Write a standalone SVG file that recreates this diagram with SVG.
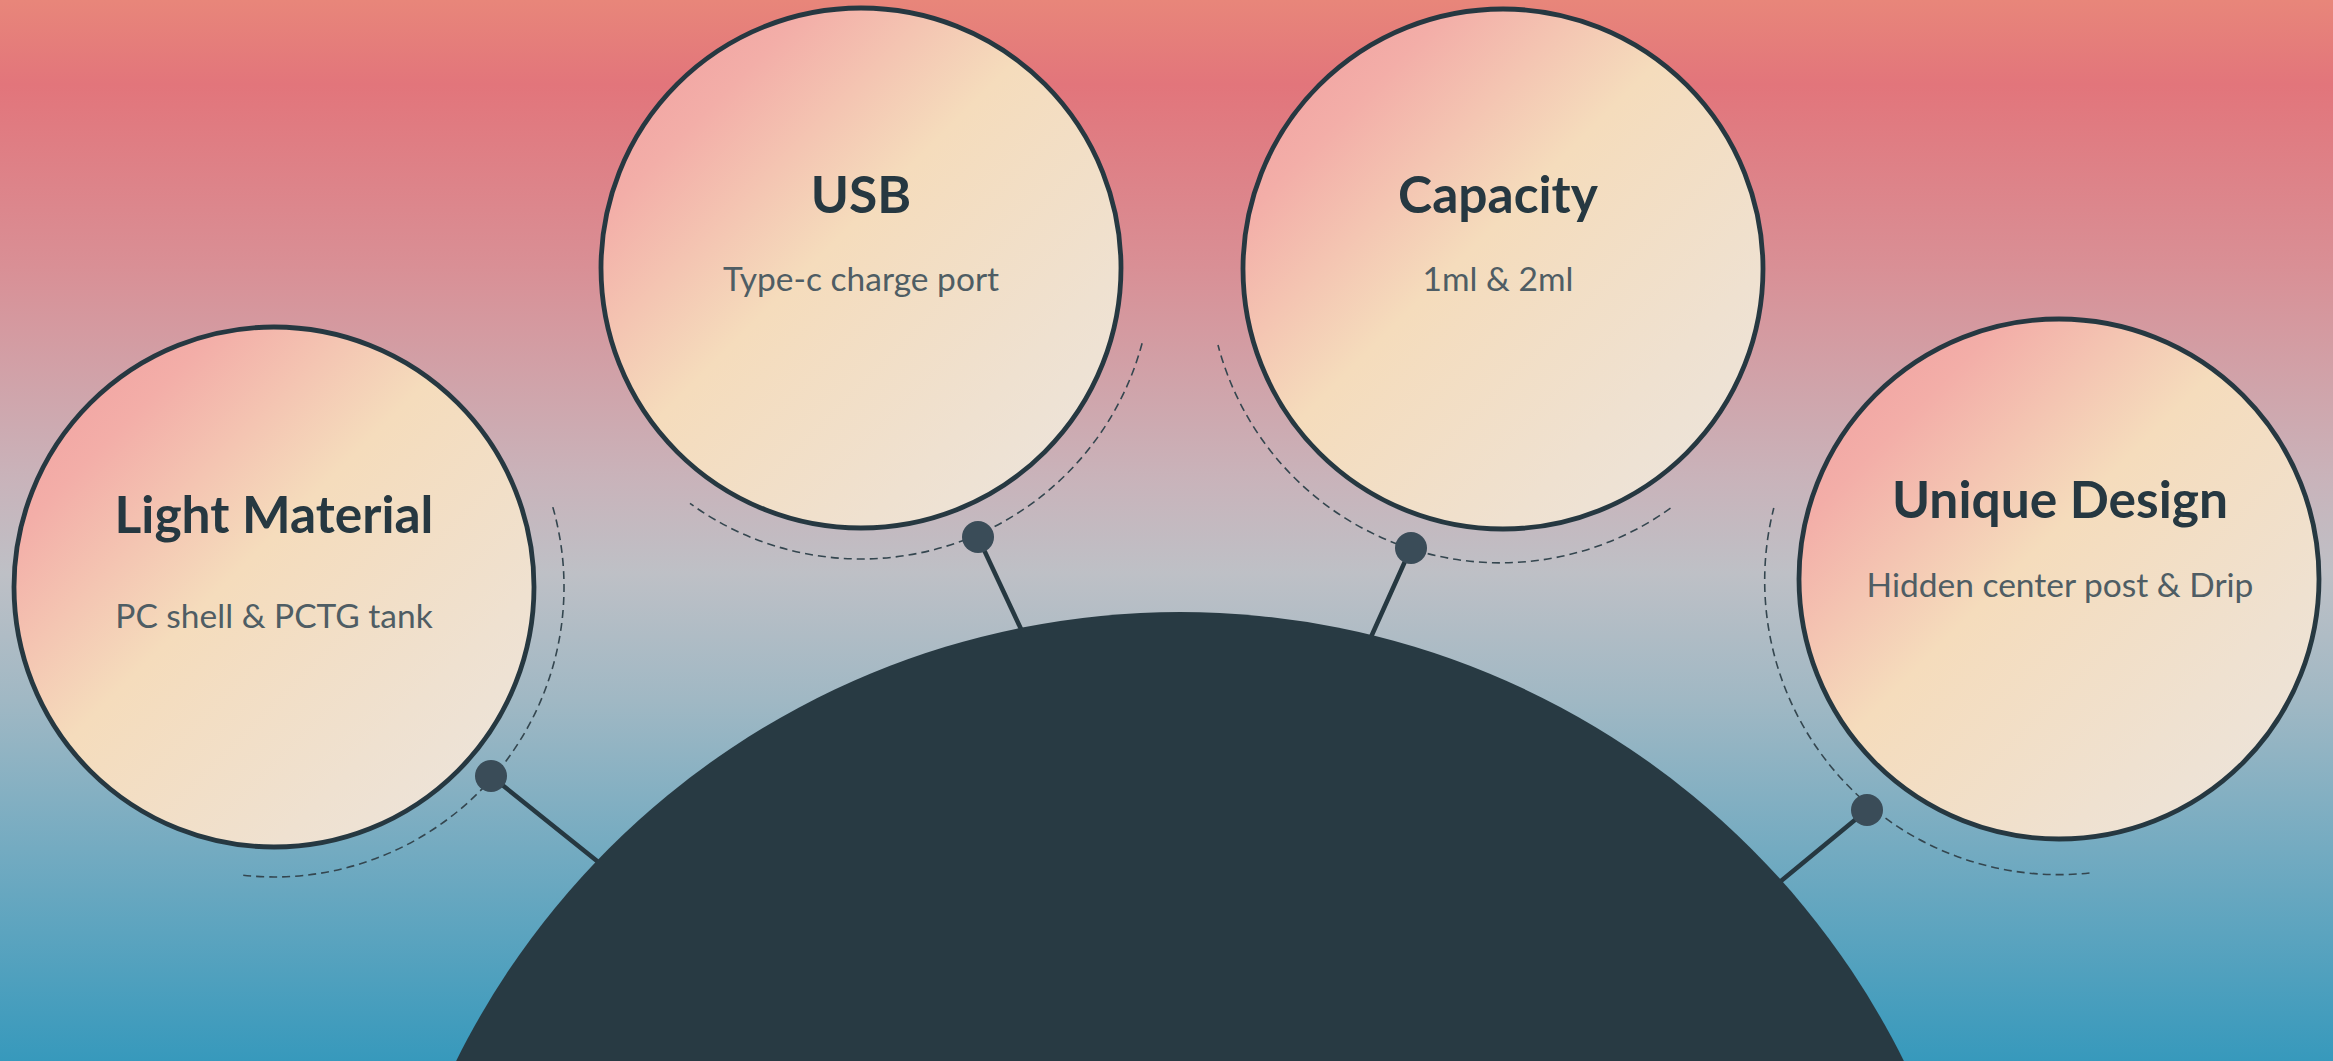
<svg xmlns="http://www.w3.org/2000/svg" width="2333" height="1061" viewBox="0 0 2333 1061">
<defs>
<linearGradient id="bg" x1="0" y1="0" x2="0" y2="1">
<stop offset="0" stop-color="#e8867a"/>
<stop offset="0.08" stop-color="#e2757b"/>
<stop offset="0.25" stop-color="#d98f95"/>
<stop offset="0.45" stop-color="#c9b3ba"/>
<stop offset="0.54" stop-color="#bec0c6"/>
<stop offset="0.66" stop-color="#a0b8c4"/>
<stop offset="0.8" stop-color="#74abc1"/>
<stop offset="1" stop-color="#3799bc"/>
</linearGradient>
<linearGradient id="cf" x1="0" y1="0" x2="1" y2="1">
<stop offset="0" stop-color="#f09a9d"/>
<stop offset="0.2" stop-color="#f3aea8"/>
<stop offset="0.45" stop-color="#f5dcbc"/>
<stop offset="0.75" stop-color="#efe1d0"/>
<stop offset="1" stop-color="#ebe5df"/>
</linearGradient>
</defs>
<style>
.node-c{fill:url(#cf);stroke:#263841;stroke-width:4.8}
.dash{fill:none;stroke:#34464f;stroke-width:1.6;stroke-dasharray:8 5}
.dot{fill:#3a4c58}
.conn{stroke:#263841;stroke-width:4.5;stroke-linecap:round}
.t{font-family:Lato,"Noto Sans","Liberation Sans",sans-serif;font-weight:700;font-size:51.5px;fill:#263841;text-anchor:middle}
.s{font-family:Lato,"Noto Sans","Liberation Sans",sans-serif;font-weight:400;font-size:33.5px;fill:#4f5d64;text-anchor:middle}
</style>
<rect x="0" y="0" width="2333" height="1061" fill="url(#bg)"/>
<g id="connectors">
<line class="conn" x1="491" y1="776" x2="597" y2="861"/>
<line class="conn" x1="978" y1="537" x2="1021" y2="629"/>
<line class="conn" x1="1411" y1="548" x2="1371" y2="637"/>
<line class="conn" x1="1867" y1="810" x2="1781" y2="881"/>
</g>
<g id="hub">
<circle cx="1180" cy="1420" r="808" fill="#283a43"/>
</g>
<g id="node-light-material">
<path class="dash" d="M552.8 507.1 A290 290 0 0 1 238.7 874.8"/>
<circle class="node-c" cx="274" cy="587" r="260"/>
<circle class="dot" cx="491" cy="776" r="16"/>
<text class="t" x="274" y="533">Light Material</text>
<text class="s" x="274" y="628">PC shell &amp; PCTG tank</text>
</g>
<g id="node-usb">
<path class="dash" d="M1142.1 343.3 A291 291 0 0 1 690 503.4"/>
<circle class="node-c" cx="861" cy="268" r="260"/>
<circle class="dot" cx="978" cy="537" r="16"/>
<text class="t" x="861" y="213">USB</text>
<text class="s" x="861" y="291">Type-c charge port</text>
</g>
<g id="node-capacity">
<path class="dash" d="M1670.5 508.2 A292 292 0 0 1 1218 345"/>
<circle class="node-c" cx="1503" cy="269" r="260"/>
<circle class="dot" cx="1411" cy="548" r="16"/>
<text class="t" x="1498" y="213">Capacity</text>
<text class="s" x="1498" y="291">1ml &amp; 2ml</text>
</g>
<g id="node-unique-design">
<path class="dash" d="M2089.5 873 A294 294 0 0 1 1773.8 508"/>
<circle class="node-c" cx="2059" cy="579" r="260"/>
<circle class="dot" cx="1867" cy="810" r="16"/>
<text class="t" x="2060" y="518">Unique Design</text>
<text class="s" x="2060" y="597">Hidden center post &amp; Drip</text>
</g>
</svg>
